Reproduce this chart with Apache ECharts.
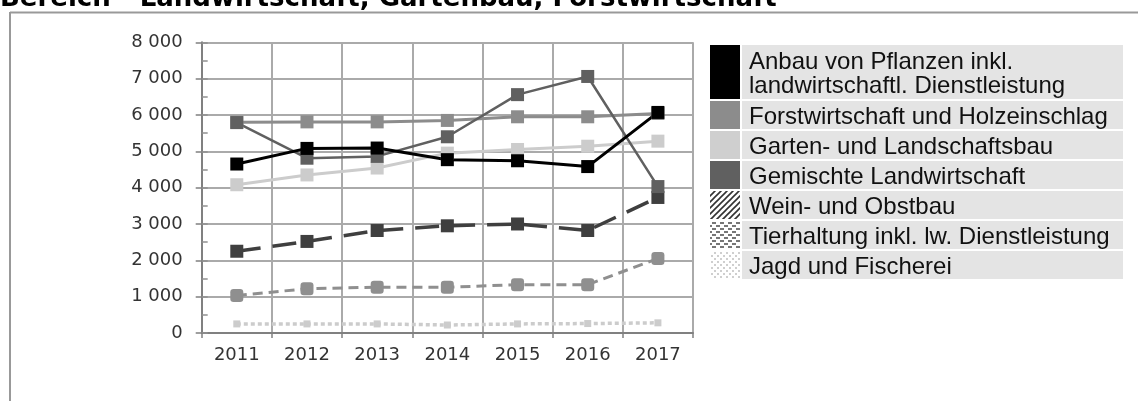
<!DOCTYPE html>
<html>
<head>
<meta charset="utf-8">
<script src="https://cdn.jsdelivr.net/npm/echarts@6/dist/echarts.min.js"></script>
<style>
html, body { margin: 0; padding: 0; background: #fff; }
#chart { width: 1138px; height: 401px; }
</style>
</head>
<body>
<div id="chart"></div>
<script>
//Daten
var years       = ['2011', '2012', '2013', '2014', '2015', '2016', '2017'];
var anbau       = [4650, 5080, 5090, 4770, 4740, 4580, 6070];
var forst       = [5800, 5810, 5810, 5850, 5950, 5950, 6040];
var garten      = [4080, 4350, 4540, 4950, 5050, 5140, 5280];
var gemischt    = [5790, 4810, 4860, 5400, 6560, 7060, 4030];
var weinObst    = [2250, 2520, 2820, 2950, 3000, 2820, 3730];
var tierhaltung = [1030, 1220, 1260, 1260, 1330, 1330, 2050];
var jagd        = [250, 250, 250, 220, 250, 260, 280];
var yMin = 0, yMax = 8000, yStep = 1000;

var titleText = 'Bereich - Landwirtschaft, Gartenbau, Forstwirtschaft';
var legendNames = [
	'Anbau von Pflanzen inkl.\nlandwirtschaftl. Dienstleistung',
	'Forstwirtschaft und Holzeinschlag',
	'Garten- und Landschaftsbau',
	'Gemischte Landwirtschaft',
	'Wein- und Obstbau',
	'Tierhaltung inkl. lw. Dienstleistung',
	'Jagd und Fischerei'
];

//Muster fuer die Legende
function makePattern(kind) {
	var c = document.createElement('canvas');
	var ctx = c.getContext('2d');
	if (kind == 'hatch') {
		c.width = 6; c.height = 6;
		ctx.fillStyle = '#fff'; ctx.fillRect(0, 0, 6, 6);
		ctx.strokeStyle = '#333'; ctx.lineWidth = 1.6;
		ctx.beginPath();
		ctx.moveTo(-1, 7); ctx.lineTo(7, -1);
		ctx.moveTo(-4, 4); ctx.lineTo(4, -4);
		ctx.moveTo(2, 10); ctx.lineTo(10, 2);
		ctx.stroke();
	} else if (kind == 'dash') {
		c.width = 8; c.height = 6;
		ctx.fillStyle = '#fff'; ctx.fillRect(0, 0, 8, 6);
		ctx.fillStyle = '#777';
		ctx.fillRect(0, 0, 4, 2);
		ctx.fillRect(4, 3, 4, 2);
	} else {
		c.width = 6; c.height = 6;
		ctx.fillStyle = '#fff'; ctx.fillRect(0, 0, 6, 6);
		ctx.fillStyle = '#cfcfcf';
		ctx.fillRect(0, 0, 2, 2);
		ctx.fillRect(3, 3, 2, 2);
	}
	return { image: c, repeat: 'repeat' };
}

var legendFills = ['#000', '#8c8c8c', '#cfcfcf', '#606060', makePattern('hatch'), makePattern('dash'), makePattern('dots')];

function fmt(v) {
	return String(v).replace(/\B(?=(\d{3})+(?!\d))/g, ' ');
}

function line(name, data, color, width, type, symbol, size) {
	return {
		name: name,
		type: 'line',
		data: data,
		symbol: symbol,
		symbolSize: size,
		lineStyle: { color: color, width: width, type: type },
		itemStyle: { color: color },
		z: 3
	};
}

//Legende als Grafik
function legendGraphic() {
	var items = [];
	var y = 45;
	for (var i = 0; i < legendNames.length; i++) {
		var h = i == 0 ? 54 : 28;
		items.push({
			type: 'rect', shape: { x: 710, y: y, width: 30, height: h },
			style: { fill: legendFills[i] }
		});
		items.push({
			type: 'rect', shape: { x: 742, y: y, width: 381, height: h },
			style: { fill: '#e4e4e4' }
		});
		items.push({
			type: 'text', x: 749, y: y + h / 2 + 2,
			style: {
				text: legendNames[i], fill: '#111',
				font: '24px "Liberation Sans", Arial, sans-serif',
				lineHeight: 24, verticalAlign: 'middle', align: 'left'
			}
		});
		y += h + 2;
	}
	return items;
}

var graphics = [
	{ type: 'line', shape: { x1: 10, y1: 12.5, x2: 1138, y2: 12.5 }, style: { stroke: '#999', lineWidth: 2 } },
	{ type: 'line', shape: { x1: 10, y1: 12, x2: 10, y2: 401 }, style: { stroke: '#999', lineWidth: 2 } },
	{
		//Titel, oben abgeschnitten
		type: 'text', x: 0, y: -1,
		style: {
			text: titleText, fill: '#000',
			font: 'bold 26px "DejaVu Sans", sans-serif',
			verticalAlign: 'middle'
		}
	}
].concat(legendGraphic());

var axisFont = { fontFamily: 'DejaVu Sans', fontSize: 18, color: '#333' };

var option = {
	animation: false,
	grid: { left: 201.7, right: 445, top: 42.3, bottom: 68 },
	xAxis: {
		type: 'category',
		data: years,
		boundaryGap: true,
		axisLine: { lineStyle: { color: '#808080', width: 2 } },
		axisTick: { show: true, length: 5, interval: 0, lineStyle: { color: '#808080', width: 1.5 } },
		axisLabel: Object.assign({ margin: 13, interval: 0 }, axisFont),
		splitLine: { show: true, interval: 0, lineStyle: { color: '#aaa', width: 2 } }
	},
	yAxis: [{
		type: 'value',
		min: yMin, max: yMax, interval: yStep,
		axisLine: { show: true, lineStyle: { color: '#808080', width: 2 } },
		axisTick: { show: true, length: 6, lineStyle: { color: '#808080', width: 1.5 } },
		axisLabel: Object.assign({ margin: 19, formatter: fmt }, axisFont),
		splitLine: { show: true, lineStyle: { color: '#aaa', width: 2 } }
	}, {
		//kleine Striche innen
		type: 'value',
		position: 'left',
		min: yMin, max: yMax, interval: yStep / 2,
		axisLine: { show: false },
		axisTick: { show: true, inside: true, length: 6, lineStyle: { color: '#909090', width: 1.5 } },
		axisLabel: { show: false },
		splitLine: { show: false }
	}],
	graphic: graphics,
	series: [
		line(legendNames[6], jagd, '#cccccc', 3.5, [4, 3], 'rect', 7),
		line(legendNames[5], tierhaltung, '#8f8f8f', 3, [10, 6], 'roundRect', 13),
		line(legendNames[4], weinObst, '#3f3f3f', 3.5, [24, 12], 'rect', 13),
		line(legendNames[2], garten, '#cccccc', 3, 'solid', 'rect', 13),
		line(legendNames[1], forst, '#8c8c8c', 3, 'solid', 'rect', 13),
		line(legendNames[3], gemischt, '#606060', 2.5, 'solid', 'rect', 13),
		line(legendNames[0], anbau, '#000000', 3, 'solid', 'rect', 13)
	]
};

var myChart = echarts.init(document.getElementById('chart'));
myChart.setOption(option);
</script>
</body>
</html>
